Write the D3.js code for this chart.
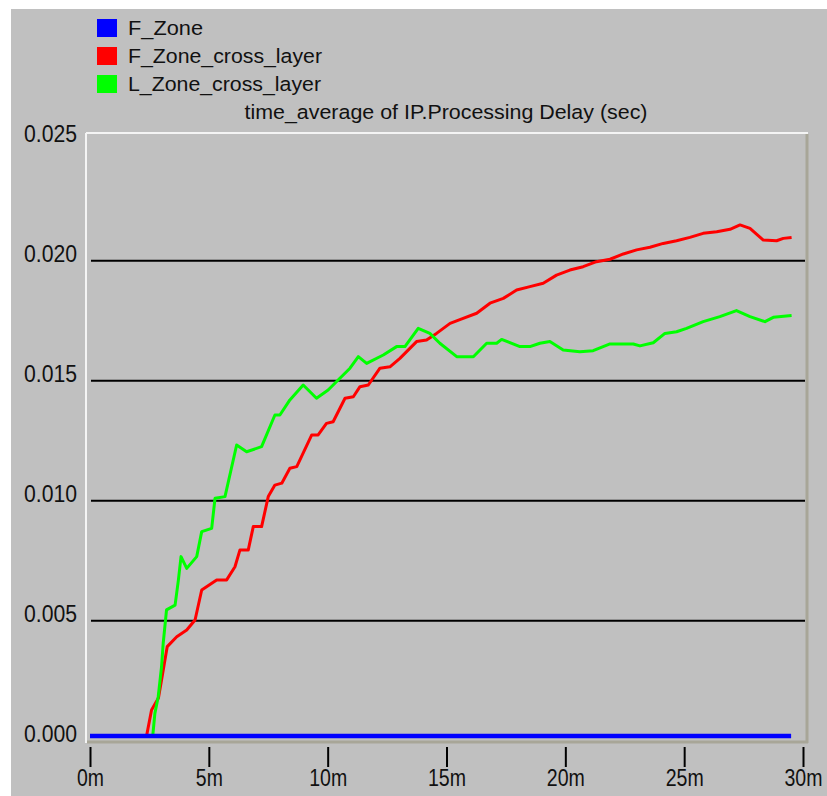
<!DOCTYPE html>
<html>
<head>
<meta charset="utf-8">
<script src="https://cdn.jsdelivr.net/npm/d3@7"></script>
<style>
  body { margin: 0; background: #fff; }
  .tick-label { font-family: "Liberation Sans", Arial, sans-serif; font-size: 23px; fill: #111; }
  .txt { font-family: "Liberation Sans", Arial, sans-serif; font-size: 20.5px; fill: #111; }
</style>
</head>
<body>
<div id="chart"></div>
<script>
// series names + colours
const seriesNames = ["F_Zone", "F_Zone_cross_layer", "L_Zone_cross_layer"];
const seriesColors = ["#0000ff", "#ff0000", "#00ff00"];

// time in minutes, values in seconds
const blueT = [0, 29.5];
const blueV = [0.0002, 0.0002];

const redT = [2.38,2.59,2.88,3.01,3.25,3.65,4.07,4.42,4.70,5.33,5.75,6.10,6.31,6.66,6.87,7.22,7.50,7.78,8.07,8.41,8.70,9.33,9.60,9.95,10.23,10.73,11.08,11.36,11.71,12.2,12.62,13.04,13.74,14.16,14.58,15.15,15.7,16.27,16.83,17.39,17.95,18.51,19.07,19.63,20.19,20.75,21.31,21.88,22.44,23.0,23.56,24.12,24.68,25.24,25.8,26.37,26.93,27.35,27.77,28.33,28.89,29.17,29.52];
const redV = [0.0002,0.00128,0.00178,0.00253,0.00392,0.00433,0.00461,0.00503,0.00628,0.0067,0.0067,0.00725,0.00795,0.00795,0.00892,0.00892,0.01017,0.01065,0.01073,0.01135,0.01142,0.01274,0.01274,0.01322,0.01329,0.01427,0.01433,0.01475,0.01482,0.01552,0.01558,0.01593,0.01663,0.0167,0.01697,0.01739,0.0176,0.01781,0.01823,0.01843,0.01878,0.01892,0.01906,0.0194,0.01961,0.01975,0.01996,0.02006,0.02028,0.02045,0.02056,0.02072,0.02083,0.02097,0.02114,0.02121,0.02131,0.02149,0.02135,0.02086,0.02083,0.02093,0.02097];

const greenT = [2.64,2.73,2.87,3.01,3.08,3.22,3.58,3.72,3.83,4.07,4.49,4.70,5.12,5.26,5.68,6.17,6.59,7.22,7.78,7.99,8.41,8.97,9.53,10.02,10.44,10.94,11.29,11.64,12.34,12.9,13.25,13.81,14.3,14.72,15.43,16.13,16.69,17.11,17.32,18.09,18.51,18.93,19.35,19.91,20.61,21.17,21.88,22.86,23.14,23.7,24.19,24.68,25.1,25.8,26.5,27.2,27.77,28.4,28.75,29.52];
const greenV = [0.0002,0.00114,0.00183,0.00308,0.00406,0.00545,0.00565,0.0067,0.00767,0.00718,0.00767,0.00871,0.00885,0.0101,0.01017,0.01232,0.01204,0.01225,0.01357,0.01357,0.0142,0.01482,0.01427,0.01461,0.01503,0.01552,0.016,0.01572,0.01607,0.01642,0.01642,0.01718,0.01697,0.01656,0.016,0.016,0.01656,0.01656,0.01672,0.01642,0.01642,0.01656,0.01663,0.01628,0.01621,0.01625,0.01653,0.01653,0.01645,0.01658,0.01697,0.01704,0.01718,0.01746,0.01767,0.01792,0.01767,0.01746,0.01764,0.01772];

const xTicks = [0, 5, 10, 15, 20, 25, 30];
const yTicks = [0, 0.005, 0.010, 0.015, 0.020, 0.025];
const gridTicks = [0.005, 0.010, 0.015, 0.020];
const title = "time_average of IP.Processing Delay (sec)";

const width = 827, height = 796;
const frame = { left: 86, top: 133, right: 808, bottom: 743 };

const svg = d3.select("#chart").append("svg")
    .attr("width", width)
    .attr("height", height);

// grey window
svg.append("rect")
    .attr("x", 11).attr("y", 9)
    .attr("width", width - 11).attr("height", height - 9)
    .attr("fill", "#c0c0c0");

const x = d3.scaleLinear().domain([0, 30]).range([90, 803]);
const y = d3.scaleLinear().domain([0, 0.025]).range([740.7, 140.7]);

// sunken frame
svg.append("line").attr("x1", frame.left).attr("x2", frame.right).attr("y1", frame.top).attr("y2", frame.top)
    .attr("stroke", "#f4f4f4").attr("stroke-width", 2);
svg.append("line").attr("x1", frame.left).attr("x2", frame.left).attr("y1", frame.top).attr("y2", frame.bottom)
    .attr("stroke", "#f4f4f4").attr("stroke-width", 2);
svg.append("line").attr("x1", frame.right - 1).attr("x2", frame.right - 1).attr("y1", frame.top + 1).attr("y2", frame.bottom)
    .attr("stroke", "#a8a698").attr("stroke-width", 3);
svg.append("line").attr("x1", frame.left + 1).attr("x2", frame.right).attr("y1", frame.bottom - 1).attr("y2", frame.bottom - 1)
    .attr("stroke", "#a8a698").attr("stroke-width", 3);

// grid
svg.selectAll(".grid")
    .data(gridTicks)
    .enter()
    .append("line")
    .attr("class", "grid")
    .attr("x1", 91).attr("x2", 805)
    .attr("y1", d => y(d)).attr("y2", d => y(d))
    .attr("stroke", "#000").attr("stroke-width", 2);

// y labels (sit a little above their line, like the original)
const yAxis = svg.append("g")
    .attr("transform", `translate(${frame.left},0)`)
    .call(d3.axisLeft(y).tickValues(yTicks).tickSize(0).tickPadding(9).tickFormat(d3.format(".3f")));
yAxis.select(".domain").remove();
yAxis.selectAll("text")
    .attr("class", "tick-label")
    .attr("y", -7)
    .attr("font-family", null).attr("font-size", null)
    .attr("textLength", 53).attr("lengthAdjust", "spacingAndGlyphs");

// x axis ticks
const xAxis = svg.append("g")
    .attr("transform", "translate(0,747)")
    .call(d3.axisBottom(x).tickValues(xTicks).tickSize(20).tickPadding(3).tickFormat(d => d + "m"));
xAxis.select(".domain").remove();
xAxis.selectAll(".tick line").attr("stroke", "#000").attr("stroke-width", 2);
xAxis.selectAll("text")
    .attr("class", "tick-label")
    .attr("font-family", null).attr("font-size", null)
    .attr("textLength", d => d < 10 ? 27 : 38).attr("lengthAdjust", "spacingAndGlyphs");

// lines
const series = [
    { t: blueT, v: blueV, w: 4.5 },
    { t: redT, v: redV, w: 3 },
    { t: greenT, v: greenV, w: 3 }
];
const line = d3.line().x(d => x(d[0])).y(d => y(d[1]));

// draw order: red, green, blue on top
[1, 2, 0].forEach(i => {
    const s = series[i];
    svg.append("path")
        .datum(s.t.map((t, k) => [t, s.v[k]]))
        .attr("fill", "none")
        .attr("stroke", seriesColors[i])
        .attr("stroke-width", s.w)
        .attr("stroke-linejoin", "round")
        .attr("d", line);
});

// legend
const legendWidths = [75, 194, 193];
const legend = svg.selectAll(".legend")
    .data(seriesNames)
    .enter()
    .append("g")
    .attr("class", "legend")
    .attr("transform", (d, i) => `translate(97,${19 + i * 28})`);

legend.append("rect")
    .attr("width", 20).attr("height", 18)
    .attr("fill", (d, i) => seriesColors[i]);

legend.append("text")
    .attr("class", "txt")
    .attr("x", 31)
    .attr("y", 16)
    .attr("textLength", (d, i) => legendWidths[i])
    .attr("lengthAdjust", "spacingAndGlyphs")
    .text(d => d);

// title
svg.append("text")
    .attr("class", "txt")
    .attr("x", 446)
    .attr("y", 119)
    .attr("text-anchor", "middle")
    .attr("textLength", 403)
    .attr("lengthAdjust", "spacingAndGlyphs")
    .text(title);
</script>
</body>
</html>
